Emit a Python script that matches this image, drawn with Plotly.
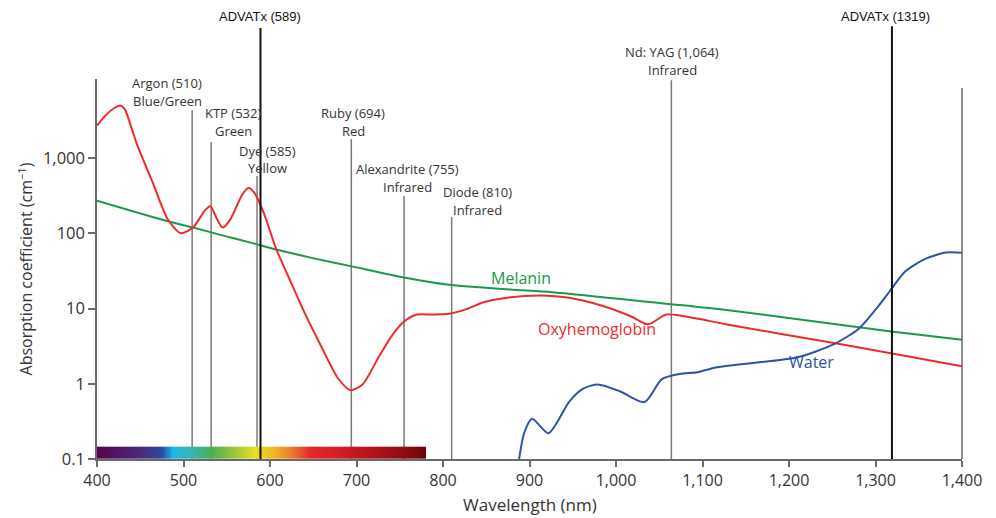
import numpy as np
import plotly.graph_objects as go

# ---------------- data ----------------
hb_nm = [400, 410, 421, 427, 432, 446, 464, 482, 497, 511, 525, 531, 539, 545, 554,
         568, 575, 582, 593, 607, 622, 641, 659, 678, 693, 707, 726, 741, 755, 770,
         788, 807, 827, 847, 874, 914, 946, 985, 1017, 1037, 1058, 1074, 1106, 1130,
         1252, 1316, 1400]
hb_val = [2700, 3690, 4690, 5000, 4470, 1545, 484, 152, 100, 119, 203, 229, 152, 119, 152,
          328, 400, 345, 184, 62.5, 25.4, 8.3, 3.18, 1.21, 0.82, 0.98, 2.3, 4.37, 6.7, 8.3,
          8.3, 8.5, 9.8, 12.1, 13.9, 14.9, 13.9, 10.8, 7.9, 6.2, 8.3, 8.1, 6.9, 6.1,
          3.47, 2.56, 1.71]

mel_nm = [400, 482, 511, 546, 582, 607, 652, 696, 755, 807, 878, 926, 1058, 1130, 1316, 1400]
mel_val = [271, 144, 119, 93, 72.8, 61, 46, 36, 25.9, 20.7, 17.9, 16.5, 11.6, 9.5, 5.0, 3.85]

water_nm = [888, 894, 903, 922, 946, 962, 979, 1005, 1033, 1053, 1074, 1094, 1114, 1142,
            1210, 1252, 1281, 1302, 1316, 1334, 1358, 1382, 1400]
water_val = [0.1, 0.225, 0.342, 0.22, 0.58, 0.86, 0.98, 0.79, 0.57, 1.15, 1.35, 1.42, 1.63, 1.8,
             2.25, 3.36, 5.43, 10.3, 16.7, 30.9, 46, 55.5, 55]

laser_nm = [510, 532, 585, 694, 755, 810, 1064]
laser_name = ["Argon (510)", "KTP (532)", "Dye (585)", "Ruby (694)",
              "Alexandrite (755)", "Diode (810)", "Nd: YAG (1,064)"]
laser_band = ["Blue/Green", "Green", "Yellow", "Red", "Infrared", "Infrared", "Infrared"]

advatx_nm = [589, 1319]
advatx_name = ["ADVATx (589)", "ADVATx (1319)"]

x_ticks = [400, 500, 600, 700, 800, 900, 1000, 1100, 1200, 1300, 1400]
x_ticktext = ["400", "500", "600", "700", "800", "900", "1,000", "1,100", "1,200", "1,300", "1,400"]
y_ticks = [0.1, 1, 10, 100, 1000]
y_ticktext = ["0.1", "1", "10", "100", "1,000"]

spectrum_nm = [400, 450, 475, 487, 511, 532, 554, 582, 604, 625, 647, 684, 721, 758, 780]
spectrum_col = ["#5a0050", "#4a2a7a", "#2a4aa0", "#1ab8e8", "#3ab4a8", "#4cb050", "#90c040",
                "#e8e020", "#f0b820", "#e87a30", "#e8262a", "#d01c22", "#b01218", "#8a0a10", "#6a0005"]

# ---------------- styling / layout positions ----------------
FONT = "Open Sans"
TXT = "#333333"
AX = "#6a6a6a"
laser_top = [0.918, 0.834, 0.745, 0.842, 0.692, 0.637, 0.997]
laser_y1 = [0.989, 0.910, 0.811, 0.911, 0.763, 0.703, 1.071]
laser_y2 = [0.942, 0.863, 0.766, 0.863, 0.716, 0.655, 1.024]
laser_dx = [-25, 22, 10, 2, 3, 26, 1]
advatx_top = [1.134, 1.139]
advatx_ly = [1.165, 1.165]
advatx_dx = [0, -6]

fig = go.Figure()

# visible spectrum bar
edges = np.arange(400, 782, 2)
centers = (edges[:-1] + edges[1:]) / 2
cs = [[(w - 400) / 380, c] for w, c in zip(spectrum_nm, spectrum_col)]
fig.add_trace(go.Heatmap(x=edges, y=[0, 0.0324], z=[centers], colorscale=cs,
                         zmin=400, zmax=780, showscale=False, yaxis="y2",
                         hoverinfo="skip", zsmooth="best"))

fig.add_trace(go.Scatter(x=mel_nm, y=mel_val, mode="lines", name="Melanin",
                         line=dict(color="#1a9a48", width=2, shape="spline", smoothing=0.7)))
fig.add_trace(go.Scatter(x=hb_nm, y=hb_val, mode="lines", name="Oxyhemoglobin",
                         line=dict(color="#ee2a2a", width=2, shape="spline", smoothing=0.7)))
fig.add_trace(go.Scatter(x=water_nm, y=water_val, mode="lines", name="Water",
                         line=dict(color="#2e52a4", width=2, shape="spline", smoothing=0.7)))

shapes = []
annotations = []
for nm, name, band, top, y1, y2, dx in zip(laser_nm, laser_name, laser_band, laser_top,
                                           laser_y1, laser_y2, laser_dx):
    shapes.append(dict(type="line", xref="x", yref="paper", x0=nm, x1=nm, y0=0, y1=top,
                       line=dict(color="#7a7a7a", width=1.5), layer="below"))
    annotations.append(dict(xref="x", yref="paper", x=nm, y=y1, xshift=dx, text=name,
                            showarrow=False, yanchor="middle",
                            font=dict(family=FONT, size=13, color=TXT)))
    annotations.append(dict(xref="x", yref="paper", x=nm, y=y2, xshift=dx, text=band,
                            showarrow=False, yanchor="middle",
                            font=dict(family=FONT, size=13, color=TXT)))

for nm, name, top, ly, dx in zip(advatx_nm, advatx_name, advatx_top, advatx_ly, advatx_dx):
    shapes.append(dict(type="line", xref="x", yref="paper", x0=nm, x1=nm, y0=0, y1=top,
                       line=dict(color="#111111", width=2), layer="above"))
    annotations.append(dict(xref="x", yref="paper", x=nm, y=ly, xshift=dx, text=name,
                            showarrow=False, yanchor="middle",
                            font=dict(family="Liberation Sans", size=13, color="#111111")))

# right frame line at 1400
shapes.append(dict(type="line", xref="paper", yref="paper", x0=1, x1=1, y0=0, y1=0.976,
                   line=dict(color=AX, width=1.5), layer="below"))

# series labels
annotations.append(dict(xref="x", yref="paper", x=890, y=0.476, text="Melanin", showarrow=False,
                        font=dict(family=FONT, size=16, color="#1a9a48")))
annotations.append(dict(xref="x", yref="paper", x=978, y=0.308, text="Oxyhemoglobin", showarrow=False,
                        font=dict(family=FONT, size=16, color="#ee2a2a")))
annotations.append(dict(xref="x", yref="paper", x=1226, y=0.221, text="Water", showarrow=False,
                        font=dict(family=FONT, size=16, color="#2e52a4")))

# x-axis title (placed as a paper annotation for exact position)
annotations.append(dict(xref="paper", yref="paper", x=0.5, y=-0.121, yanchor="middle",
                        text="Wavelength (nm)", showarrow=False,
                        font=dict(family=FONT, size=17, color=TXT)))

# the page adds an 8 px body margin, so the figure is offset by 8 px
fig.update_layout(
    width=980, height=510,
    margin=dict(l=89, r=26, t=71, b=59),
    paper_bgcolor="white", plot_bgcolor="white",
    showlegend=False,
    font=dict(family=FONT, color=TXT),
    shapes=shapes, annotations=annotations,
    xaxis=dict(range=[400, 1400], tickvals=x_ticks, ticktext=x_ticktext, automargin=False,
               showgrid=False, zeroline=False, showline=True, linecolor=AX, linewidth=1.5,
               ticks="outside", ticklen=6, tickcolor=AX, tickwidth=1.5,
               tickfont=dict(family=FONT, size=16, color=TXT)),
    yaxis=dict(type="log", range=[-1, 4.05], tickvals=y_ticks, ticktext=y_ticktext, automargin=False,
               showgrid=False, zeroline=False, showline=True, linecolor=AX, linewidth=1.5,
               ticks="outside", ticklen=7, tickcolor=AX, tickwidth=1.5,
               tickfont=dict(family=FONT, size=16.5, color=TXT),
               title=dict(text="Absorption coefficient (cm<sup>−1</sup>)",
                          font=dict(family=FONT, size=16, color=TXT), standoff=6)),
    yaxis2=dict(overlaying="y", range=[0, 1], visible=False, fixedrange=True),
)

fig.write_html("out.html")
